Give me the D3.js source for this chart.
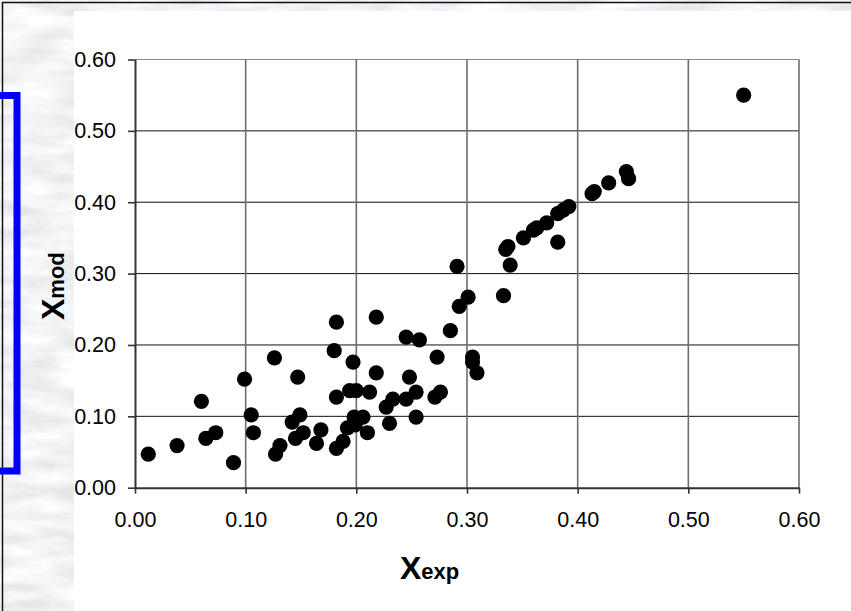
<!DOCTYPE html>
<html>
<head>
<meta charset="utf-8">
<script src="https://cdn.jsdelivr.net/npm/d3@7"></script>
<style>
  html, body { margin: 0; padding: 0; background: #fff; }
  svg { display: block; }
</style>
</head>
<body>
<svg id="chart" width="851" height="611"></svg>
<script>
// ---- data ----
const xExp = [0.012,0.038,0.060,0.064,0.073,0.089,0.099,0.105,0.107,0.126,0.127,0.131,0.142,0.149,0.147,0.145,0.152,0.164,0.168,0.182,0.188,0.182,0.180,0.182,0.192,0.197,0.194,0.200,0.198,0.206,0.199,0.210,0.212,0.218,0.218,0.227,0.233,0.230,0.245,0.254,0.248,0.254,0.245,0.257,0.271,0.276,0.273,0.285,0.293,0.301,0.291,0.305,0.305,0.309,0.333,0.339,0.335,0.337,0.351,0.360,0.363,0.372,0.382,0.382,0.387,0.392,0.413,0.415,0.428,0.444,0.446,0.550];
const xMod = [0.047,0.059,0.121,0.069,0.077,0.035,0.152,0.102,0.077,0.182,0.047,0.059,0.092,0.102,0.155,0.069,0.077,0.062,0.081,0.055,0.065,0.127,0.192,0.232,0.084,0.176,0.136,0.136,0.099,0.099,0.088,0.077,0.134,0.161,0.239,0.113,0.124,0.090,0.124,0.134,0.155,0.099,0.211,0.207,0.127,0.134,0.183,0.220,0.254,0.267,0.310,0.183,0.176,0.161,0.269,0.312,0.334,0.338,0.350,0.361,0.364,0.371,0.344,0.384,0.389,0.394,0.412,0.415,0.427,0.443,0.433,0.550];
const xTicks = [0.00,0.10,0.20,0.30,0.40,0.50,0.60];
const yTicks = [0.00,0.10,0.20,0.30,0.40,0.50,0.60];
const xTitle = "X", xSub = "exp";
const yTitle = "X", ySub = "mod";

const svg = d3.select("#chart");
const defs = svg.append("defs");
const filt = defs.append("filter").attr("id","marble")
  .attr("x",0).attr("y",0).attr("width",851).attr("height",611)
  .attr("filterUnits","userSpaceOnUse");
filt.append("feTurbulence").attr("type","fractalNoise")
  .attr("baseFrequency","0.018 0.07").attr("numOctaves",4).attr("seed",3).attr("result","n");
filt.append("feColorMatrix").attr("in","n").attr("type","matrix")
  .attr("values","0.38 0 0 0 0.70  0.38 0 0 0 0.71  0.38 0 0 0 0.73  0 0 0 0 1").attr("result","c");
filt.append("feComposite").attr("in","c").attr("in2","SourceGraphic").attr("operator","in");

// background
svg.append("rect").attr("width",851).attr("height",611).attr("fill","#fff");
svg.append("rect").attr("x",0).attr("y",0).attr("width",74).attr("height",611).attr("fill","#000").attr("filter","url(#marble)");
svg.append("rect").attr("x",0).attr("y",0).attr("width",851).attr("height",11).attr("fill","#000").attr("filter","url(#marble)");
// frame lines
svg.append("line").attr("x1",2.5).attr("x2",2.5).attr("y1",2).attr("y2",611).attr("stroke","#111").attr("stroke-width",1.5);
svg.append("line").attr("x1",2).attr("x2",851).attr("y1",2.5).attr("y2",2.5).attr("stroke","#111").attr("stroke-width",1.5);
// blue bracket
svg.append("path").attr("d","M0,95.5 H17 V471 H0").attr("fill","none").attr("stroke","#0000ff").attr("stroke-width",7);

// scales
const x = d3.scaleLinear().domain([0,0.6]).range([135,799]);
const y = d3.scaleLinear().domain([0,0.6]).range([487.7,59.5]);
const fmt = d3.format(".2f");

// gridlines
svg.append("g").selectAll("line").data(yTicks.filter(d=>d>0)).join("line")
  .attr("x1",x(0)).attr("x2",x(0.6)).attr("y1",d=>y(d)).attr("y2",d=>y(d))
  .attr("stroke",d=>d===0.6?"#888":"#111").attr("stroke-width",1);
svg.append("g").selectAll("line").data(xTicks.filter(d=>d>0)).join("line")
  .attr("x1",d=>x(d)).attr("x2",d=>x(d)).attr("y1",y(0)).attr("y2",y(0.6))
  .attr("stroke","#6e6e6e").attr("stroke-width",1.6);

// axes
const yAxis = svg.append("g").attr("transform",`translate(${x(0)},0)`)
  .call(d3.axisLeft(y).tickValues(yTicks).tickFormat(fmt).tickSizeInner(7).tickSizeOuter(0).tickPadding(12));
const xAxis = svg.append("g").attr("transform",`translate(0,${y(0)})`)
  .call(d3.axisBottom(x).tickValues(xTicks).tickFormat(fmt).tickSizeInner(6).tickSizeOuter(0).tickPadding(18));
[yAxis,xAxis].forEach(g=>{
  g.select(".domain").attr("stroke","#333").attr("stroke-width",2);
  g.selectAll(".tick line").attr("stroke","#333").attr("stroke-width",1.6);
  g.selectAll(".tick text").attr("fill","#000")
    .style("font-family","'Liberation Sans', Arial, sans-serif").style("font-size","21.5px");
});

// points
svg.append("g").selectAll("circle").data(xExp.map((d,i)=>[d,xMod[i]])).join("circle")
  .attr("cx",d=>x(d[0])).attr("cy",d=>y(d[1])).attr("r",7.6).attr("fill","#000");

// titles
const xt = svg.append("text").attr("x",400).attr("y",579)
  .style("font-family","'Liberation Sans', Arial, sans-serif").style("font-weight","bold").attr("fill","#000");
xt.append("tspan").style("font-size","32px").text(xTitle);
xt.append("tspan").style("font-size","22px").text(xSub);

const yt = svg.append("text").attr("transform","translate(64,320) rotate(-90)")
  .style("font-family","'Liberation Sans', Arial, sans-serif").style("font-weight","bold").attr("fill","#000");
yt.append("tspan").style("font-size","32px").text(yTitle);
yt.append("tspan").style("font-size","22px").text(ySub);
</script>
</body>
</html>
